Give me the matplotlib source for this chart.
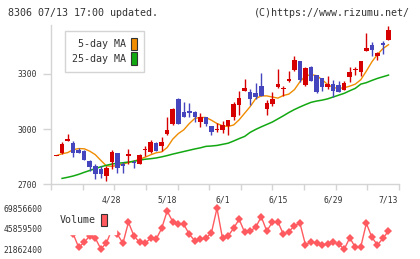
import numpy as np
import matplotlib
matplotlib.use("Agg")
import matplotlib.pyplot as plt
from matplotlib.patches import Patch

plt.rcParams["font.family"] = ["DejaVu Sans Mono"]

# --- data (61 trading days, 4/14 .. 7/13) ---
date_labels = ["4/28", "5/18", "6/1", "6/15", "6/29", "7/13"]
date_pos = [10, 20, 30, 40, 50, 60]

opens = [2854, 2868, 2933, 2922, 2888, 2883, 2825, 2798, 2784, 2745,
         2820, 2871, 2808, 2852, 2822, 2811, 2886, 2874, 2925, 2910,
         2975, 3029, 3163, 3092, 3099, 3092, 3041, 3065, 3014, 2993,
         2993, 3014, 3063, 3131, 3206, 3201, 3197, 3233, 3109, 3136,
         3230, 3219, 3260, 3320, 3368, 3239, 3337, 3293, 3275, 3230,
         3242, 3239, 3212, 3280, 3323, 3310, 3424, 3454, 3397, 3467,
         3481]
highs = [2854, 2928, 2971, 2933, 2899, 2888, 2834, 2808, 2798, 2798,
         2888, 2871, 2820, 2892, 2834, 2863, 2906, 2939, 2930, 2955,
         3065, 3113, 3169, 3149, 3143, 3099, 3086, 3068, 3014, 3032,
         3045, 3050, 3149, 3206, 3271, 3217, 3248, 3302, 3158, 3203,
         3325, 3235, 3316, 3395, 3368, 3337, 3341, 3293, 3278, 3287,
         3266, 3260, 3262, 3337, 3337, 3368, 3521, 3472, 3418, 3476,
         3562]
lows = [2854, 2862, 2933, 2847, 2868, 2831, 2771, 2727, 2732, 2718,
        2784, 2763, 2763, 2808, 2790, 2811, 2852, 2871, 2879, 2879,
        2969, 3023, 3029, 3066, 3068, 3041, 3009, 3014, 2966, 2982,
        2978, 2969, 3050, 3077, 3206, 3131, 3162, 3180, 3077, 3127,
        3224, 3181, 3253, 3314, 3253, 3233, 3260, 3197, 3208, 3217,
        3172, 3203, 3212, 3253, 3296, 3289, 3424, 3397, 3374, 3410,
        3481]
closes = [2854, 2917, 2948, 2868, 2868, 2831, 2793, 2754, 2754, 2790,
          2876, 2790, 2798, 2867, 2813, 2860, 2890, 2928, 2879, 2932,
          2996, 3108, 3029, 3068, 3089, 3065, 3065, 3029, 2982, 3002,
          3023, 3050, 3138, 3170, 3224, 3163, 3172, 3180, 3143, 3163,
          3244, 3223, 3271, 3374, 3266, 3332, 3260, 3203, 3230, 3244,
          3206, 3203, 3251, 3310, 3327, 3368, 3442, 3427, 3413, 3458,
          3539]

ma5 = [2856, 2866, 2872, 2888, 2894, 2893, 2880, 2861, 2830, 2800,
       2798, 2802, 2810, 2818, 2826, 2836, 2847, 2860, 2871, 2876,
       2900, 2945, 2975, 2996, 3030, 3058, 3063, 3063, 3048, 3030,
       3018, 3014, 3022, 3050, 3086, 3122, 3165, 3180, 3180, 3174,
       3168, 3182, 3190, 3214, 3257, 3288, 3296, 3290, 3268, 3242,
       3225, 3221, 3224, 3233, 3244, 3268, 3315, 3365, 3405, 3437,
       3458]
# 25-day MA starts one day later
ma25 = [2732, 2738, 2745, 2754, 2765, 2775, 2785, 2795, 2803,
        2810, 2814, 2817, 2821, 2825, 2831, 2836, 2839, 2843, 2849,
        2856, 2864, 2871, 2878, 2885, 2892, 2898, 2906, 2908, 2911,
        2917, 2923, 2935, 2948, 2960, 2982, 2998, 3012, 3025, 3038,
        3055, 3072, 3090, 3106, 3120, 3133, 3145, 3152, 3157, 3164,
        3174, 3184, 3194, 3208, 3221, 3244, 3252, 3264, 3275, 3284,
        3293]

volume = [45000000, 52000000, 44000000, 40000000, 24200000, 30100000,
          37500000, 35000000, 22400000, 28900000, 45000000, 39400000,
          28900000, 53500000, 37400000, 30100000, 28900000, 34700000,
          33600000, 46400000, 66700000, 54200000, 51100000, 51100000,
          39400000, 31900000, 33600000, 34700000, 41300000, 69856600,
          34700000, 37400000, 46400000, 57000000, 41800000, 43300000,
          47600000, 60000000, 43300000, 53500000, 54200000, 39400000,
          42500000, 49500000, 52300000, 26900000, 30800000, 28900000,
          26900000, 28100000, 30100000, 28100000, 21862400, 35400000,
          24200000, 24900000, 52300000, 35900000, 26900000, 34700000,
          43300000]

UP = "#d70000"
DOWN = "#4545bd"
GRID = "#d4d4d4"
TXT = "#333333"

W, H = 420, 259
fig = plt.figure(figsize=(W / 100, H / 100), dpi=100)

def frac(x0, y0, x1, y1):
    # pixel box -> figure fraction rect
    return [x0 / W, 1 - y1 / H, (x1 - x0) / W, (y1 - y0) / H]

ax = fig.add_axes(frac(51, 25, 399, 184.3))
axv = fig.add_axes(frac(51, 203.4, 399, 254.2))

x = np.arange(len(opens))
o = np.array(opens)
c = np.array(closes)
cols = [UP if cc >= oo else DOWN for oo, cc in zip(o, c)]

# moving averages
ax.plot(x, ma5, color="#f08c00", lw=1.0, zorder=1)
ax.plot(x[1:], ma25, color="#12a812", lw=1.1, zorder=1)

# candles
ax.vlines(x, lows, highs, colors=cols, lw=1.0, zorder=2)
bottom = np.minimum(o, c)
height = np.maximum(np.abs(c - o), 4)
ax.bar(x, height, bottom=bottom, width=0.82, color=cols, linewidth=0, zorder=3)

ax.set_xlim(-1, 61.9)
ax.set_ylim(2700, 3565)
ax.set_yticks([2700, 3000, 3300])
ax.set_xticks(date_pos)
ax.set_xticklabels(date_labels)
ax.set_xticks(np.linspace(-1, 61.9, 12), minor=True)
for s in ["top", "right"]:
    ax.spines[s].set_visible(False)
for s in ["left", "bottom"]:
    ax.spines[s].set_color(GRID)
    ax.spines[s].set_linewidth(1.0)
ax.tick_params(axis="y", length=6, width=1, color=GRID, labelsize=5.8,
               labelcolor=TXT, pad=4)
ax.tick_params(axis="x", which="major", length=0, labelsize=5.8,
               labelcolor=TXT, pad=8)
ax.tick_params(axis="x", which="minor", length=4.5, width=1, color=GRID)

leg = ax.legend(handles=[Patch(facecolor="#f08c00", edgecolor="#333333", lw=0.8),
                         Patch(facecolor="#12a812", edgecolor="#333333", lw=0.8)],
                labels=["5-day MA", "25-day MA"], markerfirst=False,
                loc="upper left", bbox_to_anchor=(65 / W, 1 - 30.7 / H),
                bbox_transform=fig.transFigure, borderaxespad=0,
                fontsize=7.2, handlelength=0.6, handleheight=1.5,
                handletextpad=0.5, labelspacing=0.25, borderpad=0.7,
                fancybox=False, framealpha=1, edgecolor=GRID)
leg.get_frame().set_linewidth(1.0)
for t in leg.get_texts():
    t.set_color(TXT)

# volume
axv.plot(x, volume, color="#ff5a5f", lw=1.0, marker="D", ms=4.0,
         markeredgewidth=0, zorder=1)
vmin, vmax = min(volume), max(volume)
pad = 0.12 * (vmax - vmin)
axv.set_ylim(vmin - pad, vmax + pad)
axv.set_xlim(-1, 61.9)
axv.set_yticks([vmin, (vmin + vmax) / 2, vmax])
axv.set_yticklabels([str(int(v)) for v in [vmin, (vmin + vmax) / 2, vmax]])
axv.set_xticks([])
for s in axv.spines.values():
    s.set_visible(False)
axv.tick_params(axis="y", length=0, labelsize=5.8, labelcolor=TXT, pad=6)
axv.patch.set_alpha(0)

vleg = axv.legend(handles=[Patch(facecolor="#ff5a5f", edgecolor="#333333", lw=0.8)],
                  labels=["Volume"], markerfirst=False,
                  loc="upper left", bbox_to_anchor=(51.5 / W, 1 - 205 / H),
                  bbox_transform=fig.transFigure, borderaxespad=0,
                  fontsize=7.2, handlelength=0.6, handleheight=1.5,
                  handletextpad=0.5, borderpad=0.85, fancybox=False,
                  framealpha=1, edgecolor="white")
vleg.set_zorder(5)
for t in vleg.get_texts():
    t.set_color(TXT)

fig.text(8 / W, 1 - 12.7 / H, "8306 07/13 17:00 updated.", ha="left",
         va="center", fontsize=7.2, color=TXT)
fig.text(410 / W, 1 - 12.7 / H, "(C)https://www.rizumu.net/", ha="right",
         va="center", fontsize=7.2, color=TXT)

fig.savefig("out.png", dpi=100)
